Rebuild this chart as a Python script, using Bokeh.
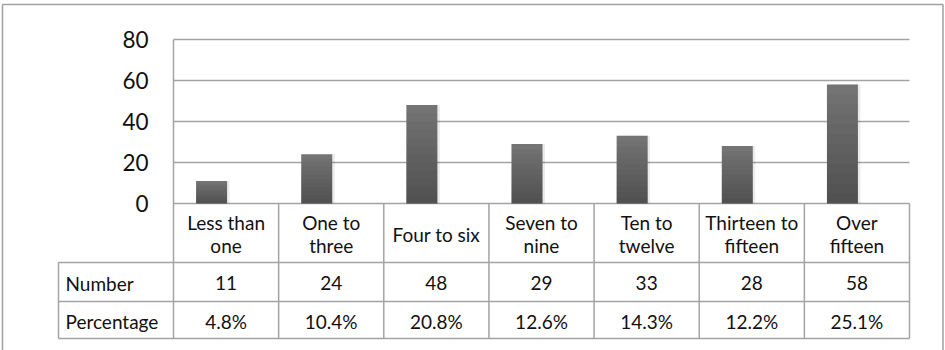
from bokeh.plotting import figure
from bokeh.models import Range1d, LinearAxis, FixedTicker
from bokeh.core.properties import value
from bokeh.embed import file_html
from bokeh.resources import INLINE

# ---------------- data ----------------
categories = ["Less than\none", "One to\nthree", "Four to six", "Seven to\nnine",
              "Ten to\ntwelve", "Thirteen to\nfifteen", "Over\nfifteen"]
numbers = [11, 24, 48, 29, 33, 28, 58]
percentages = [4.8, 10.4, 20.8, 12.6, 14.3, 12.2, 25.1]
row_labels = ["Number", "Percentage"]
y_ticks = [0, 20, 40, 60, 80]

# ---------------- layout (pixels) ----------------
W, H = 945, 350
PL, PR = 173, 909          # plot area left / right
Y0, YTOP = 203, 39         # pixel rows of value 0 and value 80
TL = 58                    # table header column left
ROWS = [203, 262, 301, 338]  # table row boundaries
n = len(categories)
u = (PR - PL) / n
ppy = (Y0 - YTOP) / max(y_ticks)


def X(px):
    return (px - PL) / u


def Y(py):
    return (Y0 - py) / ppy


FONT = value("Lato")
GRID = "#a3a3a3"

p = figure(width=W, height=H, x_range=Range1d(X(0), X(W)), y_range=Range1d(Y(H), Y(0)),
           x_axis_type=None, y_axis_type=None, toolbar_location=None,
           output_backend="svg", outline_line_color=None)
p.min_border_left = p.min_border_right = p.min_border_top = p.min_border_bottom = 0
p.background_fill_color = "white"
p.border_fill_color = "white"

# outer chart border
p.segment(x0=[X(2), X(2), X(942.5)], y0=[Y(4), Y(4), Y(4)],
          x1=[X(942.5), X(2), X(942.5)], y1=[Y(4), Y(H + 5), Y(H + 5)],
          line_color="#a0a0a0", line_width=1.5)

# gridlines
p.segment(x0=[0] * len(y_ticks), x1=[n] * len(y_ticks), y0=y_ticks, y1=y_ticks,
          line_color=GRID, line_width=1.5)

# bars (vertical gradient built from stacked translucent layers)
offset = 14.5 / u
xs = [i + 0.5 - offset for i in range(n)]
bw = 31 / u
p.vbar(x=[x + 2.5 / u for x in xs], top=numbers, bottom=0, width=bw,
       fill_color="#000000", fill_alpha=0.08, line_color=None)
N = 12
a = 1 - (0x55 / 0x76) ** (1 / N)
p.vbar(x=xs, top=numbers, bottom=0, width=bw, fill_color="#787878", line_color=None)
for k in range(1, N + 1):
    p.vbar(x=xs, top=[v * k / N for v in numbers], bottom=0, width=bw,
           fill_color="#000000", fill_alpha=a, line_color=None)

# axis line + table lines
vx0 = [0] + list(range(1, n + 1)) + [X(TL)]
vy0 = [max(y_ticks)] + [Y(ROWS[0])] * n + [Y(ROWS[1])]
vy1 = [Y(ROWS[-1])] * (n + 2)
p.segment(x0=vx0, x1=vx0, y0=vy0, y1=vy1, line_color=GRID, line_width=1.5)
hy = [Y(r) for r in ROWS[1:]]
p.segment(x0=[X(TL)] * len(hy), x1=[n] * len(hy), y0=hy, y1=hy,
          line_color=GRID, line_width=1.5)

# table text
cx = [i + 0.5 for i in range(n)]
common = dict(text_font=FONT, text_font_size="19px", text_color="#111111",
              text_baseline="middle", y_offset=1)
p.text(x=cx, y=[Y((ROWS[0] + ROWS[1]) / 2)] * n, text=categories,
       text_align="center", text_line_height=1.0, **common)
p.text(x=cx, y=[Y((ROWS[1] + ROWS[2]) / 2)] * n, text=[str(v) for v in numbers],
       text_align="center", **common)
p.text(x=cx, y=[Y((ROWS[2] + ROWS[3]) / 2)] * n, text=["%.1f%%" % v for v in percentages],
       text_align="center", **common)
p.text(x=[X(TL + 7)] * 2, y=[Y((ROWS[1] + ROWS[2]) / 2), Y((ROWS[2] + ROWS[3]) / 2)],
       text=row_labels, text_align="left", **common)

# value axis
yaxis = LinearAxis(ticker=FixedTicker(ticks=y_ticks), fixed_location=0,
                   axis_line_color=None, major_tick_line_color=None,
                   minor_tick_line_color=None, major_tick_in=0, major_tick_out=0,
                   major_label_standoff=25, major_label_text_font="Lato",
                   major_label_text_font_size="22.5px", major_label_text_color="#111111")
p.add_layout(yaxis, "left")

open("out.html", "w").write(file_html(p, INLINE))
